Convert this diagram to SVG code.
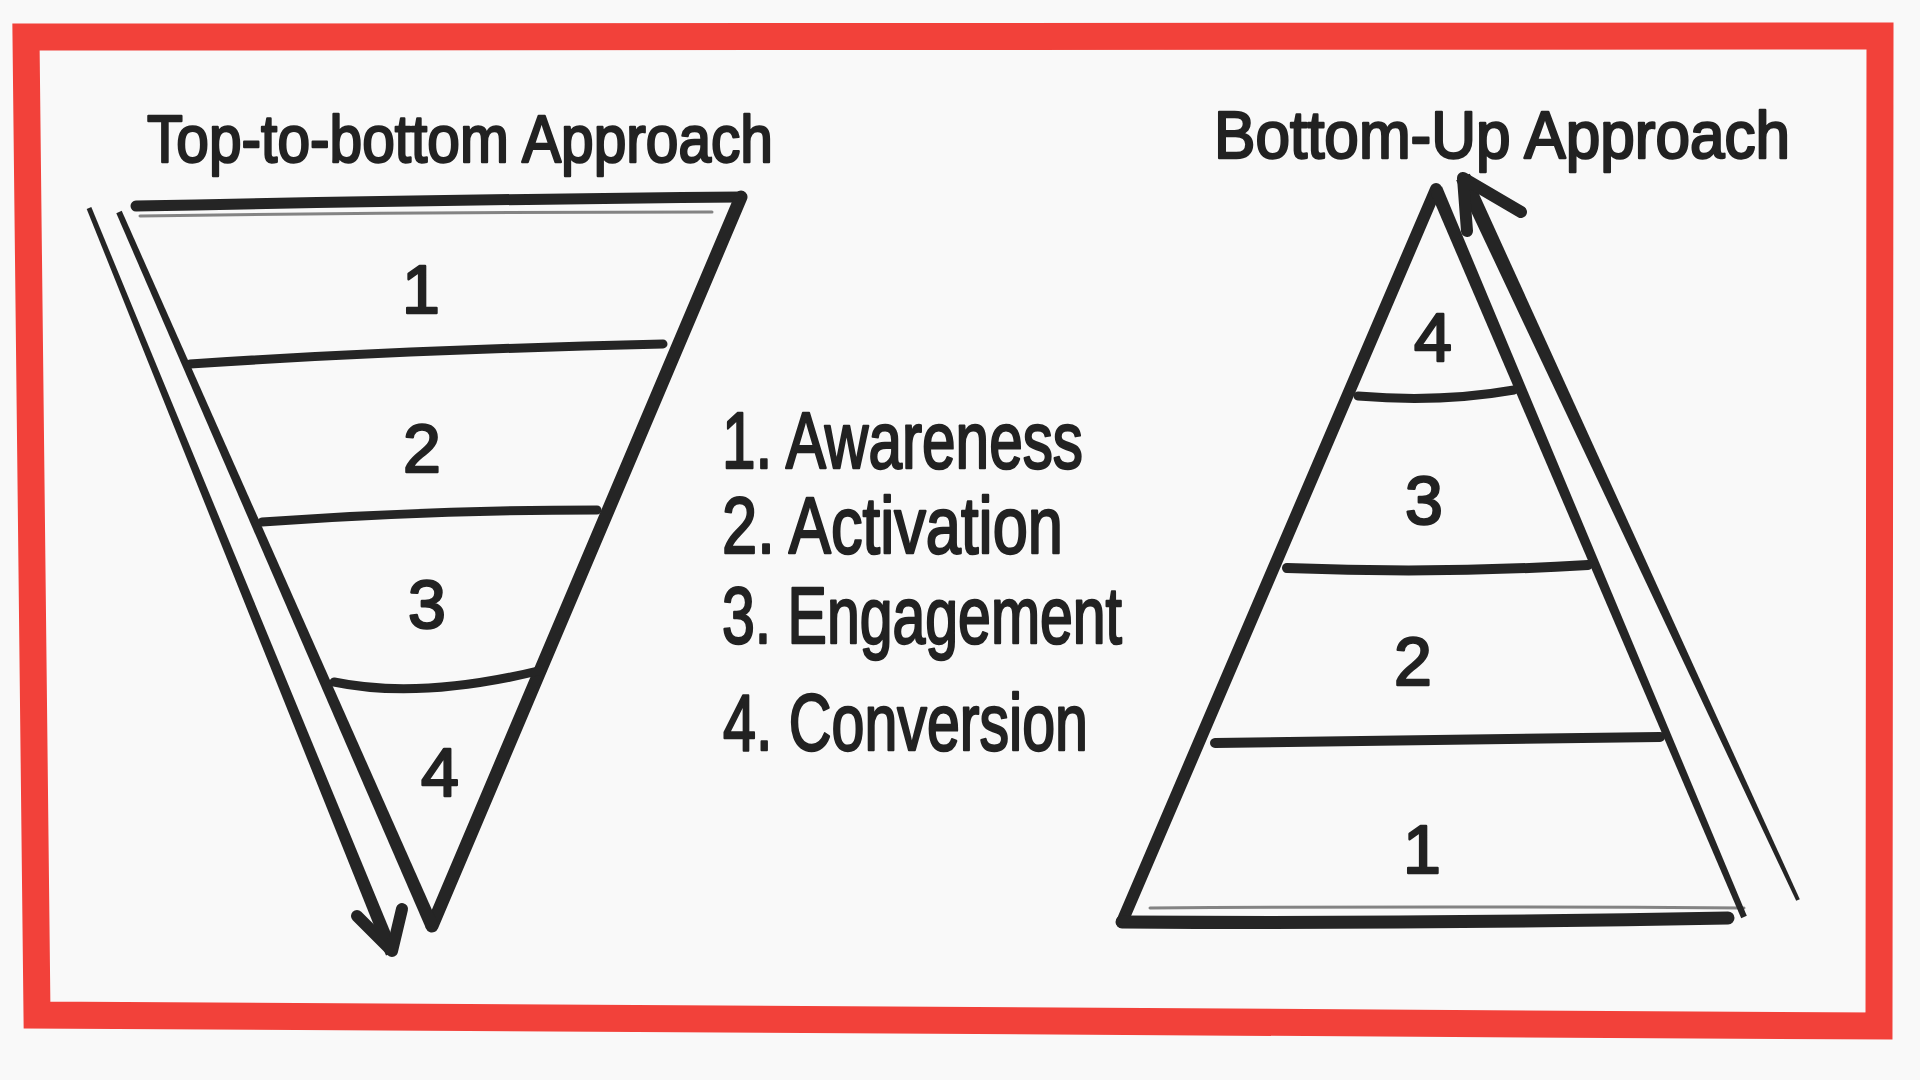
<svg xmlns="http://www.w3.org/2000/svg" width="1920" height="1080" viewBox="0 0 1920 1080">
  <style>
    .ink { fill: none; stroke: #252525; stroke-linecap: round; stroke-linejoin: round; }
    .fillink { fill: #252525; stroke: none; }
    .frame { fill: none; stroke: #f2413a; stroke-width: 27; stroke-linejoin: miter; stroke-linecap: square; }
    .hand { font-family: "Liberation Sans", "DejaVu Sans", sans-serif; fill: #222222; stroke: #222222; stroke-width: 2.4; stroke-linejoin: round; }
    .title { font-size: 66px; }
    .legend { font-size: 80px; }
    .num { font-size: 68px; text-anchor: middle; }
  </style>
  <rect x="0" y="0" width="1920" height="1080" fill="#f9f9f9"/>

  <g id="frame">
    <path class="frame" d="M26,37 L1880,36 L1879,1026 L37,1015 Z"/>
  </g>

  <g id="title-top-to-bottom">
    <text class="hand title" x="147" y="162" textLength="626" lengthAdjust="spacingAndGlyphs">Top-to-bottom Approach</text>
  </g>

  <g id="title-bottom-up">
    <text class="hand title" x="1214" y="158" textLength="576" lengthAdjust="spacingAndGlyphs">Bottom-Up Approach</text>
  </g>

  <g id="funnel">
    <!-- top edge -->
    <path class="ink" stroke-width="11" d="M136,206 Q420,200 741,197"/>
    <path class="ink" stroke-width="3" stroke-opacity="0.55" d="M140,216 Q420,212 712,212"/>
    <!-- right edge -->
    <path class="ink" stroke-width="13" d="M741,197 L432,926"/>
    <!-- left edge (tapered) -->
    <polygon class="fillink" points="121.7,210.8 438,923.4 426,928.6 116.3,213.2"/>
    <!-- dividers -->
    <path class="ink" stroke-width="9" d="M190,364 Q400,350 663,344"/>
    <path class="ink" stroke-width="9" d="M262,522 Q430,510 597,510"/>
    <path class="ink" stroke-width="9" d="M334,682 Q420,700 542,670"/>
    <g id="funnel-layer-1"><text class="hand num" x="421" y="313">1</text></g>
    <g id="funnel-layer-2"><text class="hand num" x="422" y="472">2</text></g>
    <g id="funnel-layer-3"><text class="hand num" x="427" y="628">3</text></g>
    <g id="funnel-layer-4"><text class="hand num" x="440" y="796">4</text></g>
  </g>

  <g id="pyramid">
    <!-- left edge -->
    <path class="ink" stroke-width="12" d="M1436,189 L1122,922"/>
    <!-- right edge (tapered) -->
    <polygon class="fillink" points="1442,186.5 1746.8,915.8 1741.2,918.2 1430,191.5"/>
    <!-- base -->
    <path class="ink" stroke-width="13" d="M1122,922 Q1420,924 1728,918"/>
    <path class="ink" stroke-width="3" stroke-opacity="0.55" d="M1150,908 Q1450,906 1744,908"/>
    <!-- dividers -->
    <path class="ink" stroke-width="9" d="M1358,396 Q1440,403 1514,390"/>
    <path class="ink" stroke-width="10" d="M1287,568 Q1440,574 1588,565"/>
    <path class="ink" stroke-width="10" d="M1215,743 Q1440,739 1660,737"/>
    <g id="pyramid-layer-4"><text class="hand num" x="1433" y="361">4</text></g>
    <g id="pyramid-layer-3"><text class="hand num" x="1424" y="524">3</text></g>
    <g id="pyramid-layer-2"><text class="hand num" x="1413" y="685">2</text></g>
    <g id="pyramid-layer-1"><text class="hand num" x="1422" y="873">1</text></g>
  </g>

  <g id="legend">
    <text class="hand legend" x="722" y="468" textLength="361" lengthAdjust="spacingAndGlyphs">1. Awareness</text>
    <text class="hand legend" x="722" y="553" textLength="341" lengthAdjust="spacingAndGlyphs">2. Activation</text>
    <text class="hand legend" x="722" y="643" textLength="400" lengthAdjust="spacingAndGlyphs">3. Engagement</text>
    <text class="hand legend" x="723" y="750" textLength="365" lengthAdjust="spacingAndGlyphs">4. Conversion</text>
  </g>

  <g id="connectors">
    <g id="arrow-down">
      <polygon class="fillink" points="91.3,207.1 398,950.6 386,955.4 86.7,208.9"/>
      <polyline class="ink" stroke-width="12" points="357,916 392,951 402,909"/>
    </g>
    <g id="arrow-up">
      <polygon class="fillink" points="1799.8,899.2 1469.8,173.8 1456.2,180.2 1796.2,900.8"/>
      <polyline class="ink" stroke-width="12" points="1467,231 1463,178 1521,212"/>
    </g>
  </g>
</svg>
